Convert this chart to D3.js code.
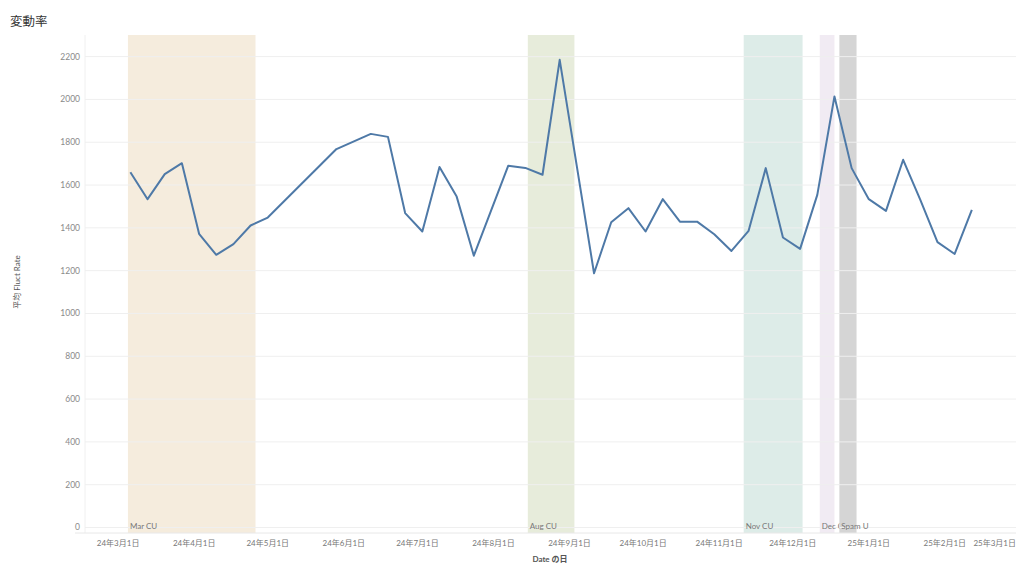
<!DOCTYPE html>
<html>
<head>
<meta charset="utf-8">
<script src="https://cdn.jsdelivr.net/npm/d3@7"></script>
<style>
  body { margin: 0; background: #fff; }
  svg text { font-family: "Lato", "Noto Sans CJK JP", sans-serif; }
</style>
</head>
<body>
<div id="chart"></div>
<script>
// weekly dates (weeks with no value are simply absent)
var dates = [
  "2024-03-06", "2024-03-13", "2024-03-20", "2024-03-27", "2024-04-03", "2024-04-10",
  "2024-04-17", "2024-04-24", "2024-05-01", "2024-05-29", "2024-06-12", "2024-06-19",
  "2024-06-26", "2024-07-03", "2024-07-10", "2024-07-17", "2024-07-24", "2024-08-07",
  "2024-08-14", "2024-08-21", "2024-08-28", "2024-09-11", "2024-09-18", "2024-09-25",
  "2024-10-02", "2024-10-09", "2024-10-16", "2024-10-23", "2024-10-30", "2024-11-06",
  "2024-11-13", "2024-11-20", "2024-11-27", "2024-12-04", "2024-12-11", "2024-12-18",
  "2024-12-25", "2025-01-01", "2025-01-08", "2025-01-15", "2025-01-22", "2025-01-29",
  "2025-02-05", "2025-02-12"
];
var fluctRate = [
  1660, 1534, 1651, 1702, 1372, 1274,
  1324, 1411, 1448, 1768, 1839, 1825,
  1469, 1383, 1684, 1546, 1270, 1690,
  1680, 1648, 2185, 1188, 1426, 1492,
  1383, 1534, 1429, 1429, 1370, 1292,
  1386, 1679, 1355, 1302, 1554, 2014,
  1679, 1534, 1479, 1718, 1531, 1333,
  1278, 1484
];

// reference bands (Google updates)
var bandNames  = ["Mar CU", "Aug CU", "Nov CU", "Dec CU", "Spam U"];
var bandStarts = ["2024-03-05", "2024-08-15", "2024-11-11", "2024-12-12", "2024-12-20"];
var bandEnds   = ["2024-04-26", "2024-09-03", "2024-12-05", "2024-12-18", "2024-12-27"];

var yTicks = [0, 200, 400, 600, 800, 1000, 1200, 1400, 1600, 1800, 2000, 2200];

var bandColors = ["#f5ecdd", "#e7ecdb", "#ddece8", "#f1ebf3", "#d5d5d5"];

function draw() {
    var parse = d3.timeParse("%Y-%m-%d");
    var fmt = d3.timeFormat("%y年%-m月%-d日");

    var width = 1024, height = 576;
    var plotLeft = 85, plotRight = 1016, plotTop = 35, plotBottom = 533;

    var svg = d3.select("#chart").append("svg")
        .attr("width", width)
        .attr("height", height);

    var x = d3.scaleTime()
        .domain([new Date(2024, 1, 16, 12), parse("2025-03-02")])
        .range([plotLeft, plotRight]);

    var y = d3.scaleLinear()
        .domain([-25.7, 2301])
        .range([plotBottom, plotTop]);

    // title
    svg.append("text")
        .attr("x", 10).attr("y", 26)
        .attr("font-size", 12.5)
        .attr("fill", "#333")
        .text("変動率");

    // bands
    var bands = bandNames.map(function(n, i) {
        return { name: n, start: parse(bandStarts[i]), end: parse(bandEnds[i]), color: bandColors[i] };
    });

    svg.selectAll("rect.band").data(bands).enter().append("rect")
        .attr("class", "band")
        .attr("x", function(d) { return x(d.start); })
        .attr("y", plotTop)
        .attr("width", function(d) { return x(d.end) - x(d.start); })
        .attr("height", plotBottom - plotTop)
        .attr("fill", function(d) { return d.color; });

    // gridlines
    svg.selectAll("line.grid").data(yTicks).enter().append("line")
        .attr("class", "grid")
        .attr("x1", plotLeft).attr("x2", plotRight)
        .attr("y1", function(d) { return y(d); })
        .attr("y2", function(d) { return y(d); })
        .attr("stroke", "#efefef")
        .attr("stroke-width", 1);

    svg.append("line")
        .attr("x1", plotLeft).attr("x2", plotLeft)
        .attr("y1", plotTop).attr("y2", plotBottom)
        .attr("stroke", "#f0f0f0");

    svg.append("line")
        .attr("x1", plotLeft - 10).attr("x2", plotRight)
        .attr("y1", plotBottom).attr("y2", plotBottom)
        .attr("stroke", "#e8e8e8");

    // y axis labels
    svg.selectAll("text.ytick").data(yTicks).enter().append("text")
        .attr("class", "ytick")
        .attr("x", 80)
        .attr("y", function(d) { return y(d) + 3; })
        .attr("text-anchor", "end")
        .attr("font-size", 8.5)
        .attr("fill", "#8a8a8a")
        .text(function(d) { return d; });

    svg.append("text")
        .attr("transform", "translate(20,282) rotate(-90)")
        .attr("text-anchor", "middle")
        .attr("font-size", 8)
        .attr("fill", "#555")
        .text("平均 Fluct Rate");

    // x axis labels
    var xTicks = x.ticks(d3.timeMonth.every(1)).filter(function(d) {
        return d >= parse("2024-03-01");
    });
    svg.selectAll("text.xtick").data(xTicks).enter().append("text")
        .attr("class", "xtick")
        .attr("y", 546)
        .attr("font-size", 8)
        .attr("fill", "#777")
        .text(function(d) { return fmt(d); })
        .each(function(d) {
            var w = this.getComputedTextLength();
            var cx = x(d) - w / 2;
            if (cx + w > plotRight) cx = plotRight - w;
            d3.select(this).attr("x", cx);
        });

    svg.append("text")
        .attr("x", 550).attr("y", 562)
        .attr("text-anchor", "middle")
        .attr("font-size", 8)
        .attr("font-weight", "bold")
        .attr("fill", "#555")
        .text("Date の日");

    // band labels, each clipped at the next band start
    var defs = svg.append("defs");
    bands.forEach(function(d, i) {
        var x0 = x(d.start);
        var x1 = i < bands.length - 1 ? x(bands[i + 1].start) : plotRight;
        defs.append("clipPath").attr("id", "clip" + i)
            .append("rect")
            .attr("x", x0).attr("y", plotBottom - 15)
            .attr("width", x1 - x0).attr("height", 15);
        svg.append("text")
            .attr("clip-path", "url(#clip" + i + ")")
            .attr("x", x0 + 2)
            .attr("y", plotBottom - 4)
            .attr("font-size", 8)
            .attr("fill", "#777")
            .text(d.name);
    });

    // line
    var data = dates.map(function(d, i) { return { date: parse(d), value: fluctRate[i] }; });

    var line = d3.line()
        .x(function(d) { return x(d.date); })
        .y(function(d) { return y(d.value); });

    svg.append("path")
        .attr("fill", "none")
        .attr("stroke", "#4e79a7")
        .attr("stroke-width", 2)
        .attr("stroke-linejoin", "round")
        .attr("d", line(data));
}

draw();
</script>
</body>
</html>
